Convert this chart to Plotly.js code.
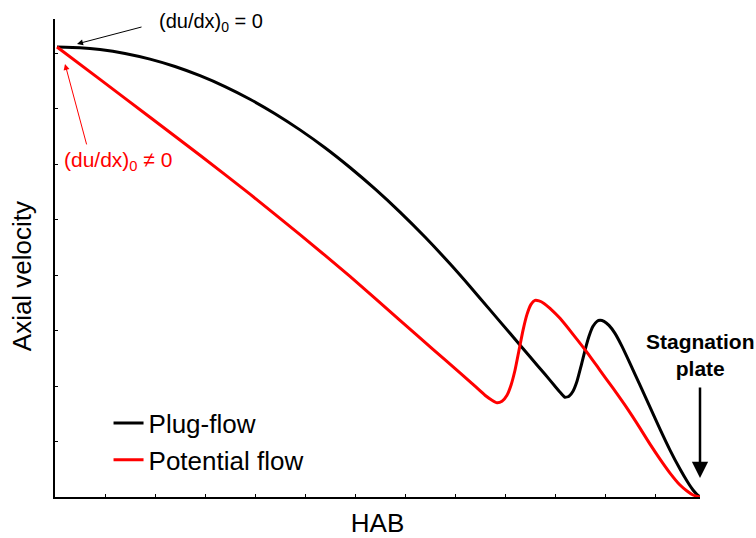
<!DOCTYPE html>
<html>
<head>
<meta charset="utf-8">
<script src="https://cdn.plot.ly/plotly-3.0.1.min.js"></script>
<style>html,body{margin:0;padding:0;background:#fff;}#chart{width:756px;height:538px;}</style>
</head>
<body>
<div id="chart"></div>
<script>
// Height above burner (arbitrary units) and axial velocity (arbitrary units)
const plugX = [2,25,45,70,95,120,145,170,195,220,245,270,295,320,345,370,395,415,435,455,475,490,500,506,510,514,518,522,526,530,534,538,542,545,549,554,560,567,575,585,595,605,615,625,632,638,642,645];
const plugY = [451,450.3,448.4,444.5,438.8,431.4,422.2,411.3,398.6,384.1,367.9,350,330.2,308.7,285.5,260.5,233.7,211,187.5,164,140.5,123,111,104,100,101,106,116,131,147,161,171,176,177,176,172,164,151,134,112,90,68,47,28,16,7,2.5,0];
const potX = [2,45,95,145,195,245,295,345,378,405,420,430,437,442,447,452,456,460,464,468,472,476,480,484,489,495,505,518,532,545,558,572,585,595,605,615,625,632,638,645];
const potY = [451,418.5,380.5,342.5,303.5,263,221,177,148,124.5,111,102,97,94.5,96,102,112,127,147,167,183,193,197,196.5,194,189,179,163,145,127,109,89,69,53,38,24,12,6,2,0];
const seriesNames = ["Plug-flow", "Potential flow"];

const traces = [
  {x: plugX, y: plugY, name: seriesNames[0], mode: "lines",
   line: {color: "#000000", width: 3, shape: "spline", smoothing: 0.5}},
  {x: potX, y: potY, name: seriesNames[1], mode: "lines",
   line: {color: "#ff0000", width: 3, shape: "spline", smoothing: 0.5}}
];

const fam = "Liberation Sans, Arial, sans-serif";
const axisFont = {family: fam, size: 26, color: "#000"};
const layout = {
  width: 756, height: 538,
  margin: {l: 55, r: 56, t: 19, b: 41},
  paper_bgcolor: "#fff", plot_bgcolor: "#fff",
  font: {family: fam, color: "#000"},
  xaxis: {range: [0, 645], showgrid: false, zeroline: false, showline: true, linecolor: "#000", linewidth: 2,
          ticks: "inside", ticklen: 3, tickwidth: 1, tickcolor: "#000", dtick: 50, tick0: 0, showticklabels: false,
          title: {text: "HAB", font: axisFont, standoff: 19}, automargin: false, fixedrange: true},
  yaxis: {range: [0, 479], showgrid: false, zeroline: false, showline: true, linecolor: "#000", linewidth: 2,
          ticks: "inside", ticklen: 3, tickwidth: 1, tickcolor: "#000", dtick: 55.6, tick0: 0, showticklabels: false,
          automargin: false, fixedrange: true},
  showlegend: true,
  legend: {x: 0.083, y: 0.204, xanchor: "left", yanchor: "top", bgcolor: "rgba(0,0,0,0)",
           font: {family: fam, size: 26, color: "#000"}, tracegroupgap: 0},
  annotations: [
    {x: -0.05, y: 221, xref: "paper", yref: "y", xanchor: "center", yanchor: "middle", textangle: -90,
     showarrow: false, text: "Axial velocity", font: axisFont},
    {x: 22, y: 454, xref: "x", yref: "y", ax: 80, ay: -21, axref: "pixel", ayref: "pixel",
     xanchor: "left", yanchor: "middle", startstandoff: 16,
     showarrow: true, arrowhead: 2, arrowsize: 1.2, arrowwidth: 1, arrowcolor: "#000",
     text: "(du/dx)<sub>0</sub> = 0", font: {size: 20, color: "#000"}},
    {x: 10, y: 434, xref: "x", yref: "y", ax: 22, ay: 82, axref: "pixel", ayref: "pixel",
     showarrow: true, arrowhead: 2, arrowsize: 1.2, arrowwidth: 1, arrowcolor: "#ff0000", text: ""},
    {x: 7, y: 337, xref: "x", yref: "y", xanchor: "left", yanchor: "middle", showarrow: false,
     text: "(du/dx)<sub>0</sub> \u2260 0", font: {size: 21, color: "#ff0000"}},
    {x: 645, y: 19, xref: "x", yref: "y", ax: 0, ay: -123, axref: "pixel", ayref: "pixel",
     startstandoff: 6, showarrow: true, arrowhead: 2, arrowsize: 1.3, arrowwidth: 2.5, arrowcolor: "#000",
     text: "<b>Stagnation<br>plate</b>", font: {size: 21, color: "#000"}}
  ]
};
Plotly.newPlot("chart", traces, layout, {displayModeBar: false, staticPlot: true});
</script>
</body>
</html>
